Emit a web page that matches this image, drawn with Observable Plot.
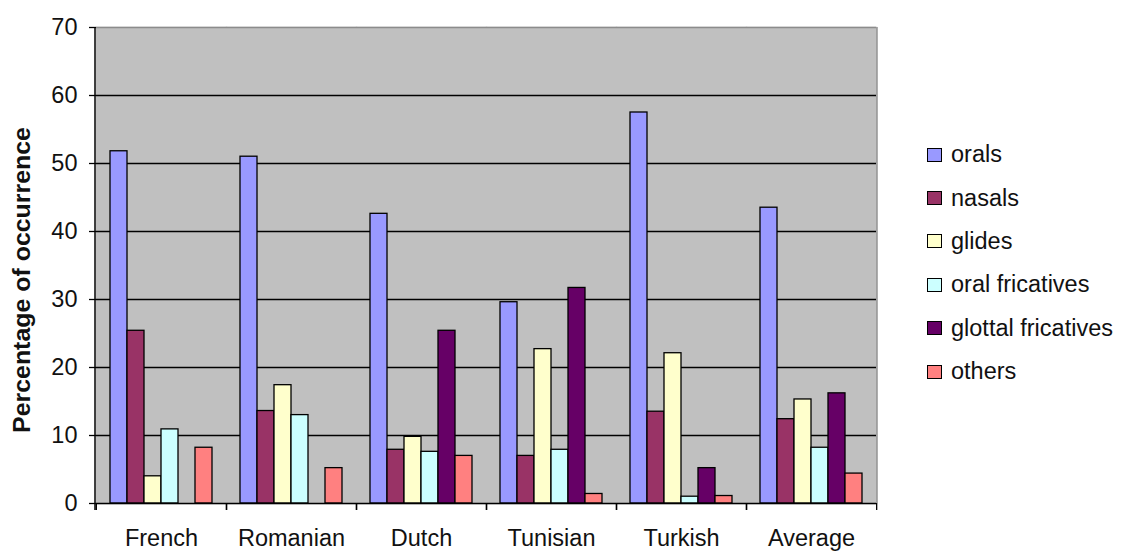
<!DOCTYPE html>
<html><head><meta charset="utf-8">
<script src="https://cdn.jsdelivr.net/npm/d3@7"></script>
<script src="https://cdn.jsdelivr.net/npm/@observablehq/plot@0.6"></script>
<style>
body{margin:0;background:#fff;font-family:"Liberation Sans",Arial,sans-serif;}
#wrap{position:relative;width:1130px;height:552px;overflow:hidden;}
#legend{position:absolute;left:927px;top:133px;}
.item{display:flex;align-items:center;height:43.4px;font-size:23.5px;color:#111;white-space:nowrap;}
.sw{width:13px;height:12px;border:1.5px solid #000;margin-right:9px;flex:none;}
#ylabel{position:absolute;left:22px;top:280px;transform:translate(-50%,-50%) rotate(-90deg) scaleX(1.06);font-size:23.5px;font-weight:bold;color:#111;white-space:nowrap;}
</style></head><body>
<div id="wrap"><div id="ylabel">Percentage of occurrence</div><div id="legend"></div></div>
<script>
const languages = ["French","Romanian","Dutch","Tunisian","Turkish","Average"];
const categories = ["orals","nasals","glides","oral fricatives","glottal fricatives","others"];
const orals = [51.8,51.0,42.6,29.6,57.5,43.5];
const nasals = [25.4,13.6,7.9,7.0,13.5,12.4];
const glides = [4.0,17.4,9.8,22.7,22.1,15.3];
const oralFricatives = [10.9,13.0,7.6,7.9,1.0,8.2];
const glottalFricatives = [0,0,25.4,31.7,5.2,16.2];
const others = [8.2,5.2,7.0,1.4,1.1,4.4];
const yTicks = [0,10,20,30,40,50,60,70];
const colors = ["#9999FF","#993366","#FFFFCC","#CCFFFF","#660066","#FF8080"];

const series = [orals,nasals,glides,oralFricatives,glottalFricatives,others];
const data = [];
languages.forEach((lang,i)=>categories.forEach((cat,j)=>{
  data.push({language:lang,category:cat,value:series[j][i]});
}));

const W=1130,H=552,ML=95,MR=253,MT=27,MB=49;
const bw=(W-ML-MR)/languages.length;

const plot = Plot.plot({
  width:W,height:H,marginLeft:ML,marginRight:MR,marginTop:MT,marginBottom:MB,
  style:{fontFamily:"'Liberation Sans', Arial, sans-serif",fontSize:"23.5px",color:"#111",background:"transparent",overflow:"visible"},
  fx:{domain:languages,padding:0,label:null,axis:null},
  x:{domain:categories,paddingInner:0,paddingOuter:0.78,axis:null},
  y:{domain:[0,70],axis:null},
  color:{domain:categories,range:colors},
  marks:[
    Plot.frame({fill:"#C0C0C0",stroke:"#C0C0C0",strokeWidth:1.5}),
    Plot.gridY(yTicks.filter(v=>v>0&&v<70),{stroke:"#000",strokeOpacity:1,strokeWidth:1.3}),
    Plot.ruleY([70],{stroke:"#8c8c8c",strokeWidth:1.3}),
    Plot.barY(data,{fx:"language",x:"category",y:"value",fill:"category",stroke:"#000",strokeWidth:1.3}),
    Plot.ruleY([0],{stroke:"#000",strokeWidth:1.5}),
    Plot.axisY(yTicks,{tickSize:7,tickPadding:12,label:null,stroke:"#000",strokeWidth:1.3}),
    Plot.axisFx({anchor:"bottom",tickSize:0,tickPadding:26,label:null}),
    Plot.axisFx({anchor:"bottom",text:null,tickSize:7,dx:bw/2,label:null,stroke:"#000",strokeWidth:1.3}),
    Plot.axisFx({anchor:"bottom",text:null,tickSize:7,dx:-bw/2,label:null,stroke:"#000",strokeWidth:1.3})
  ]
});

const svg = d3.select(plot);
const ys = plot.scale("y");
const y0 = ys.apply(0), y70 = ys.apply(70);
svg.append("line").attr("x1",W-MR).attr("x2",W-MR).attr("y1",y70).attr("y2",y0)
  .attr("stroke","#8c8c8c").attr("stroke-width",1.3);
svg.append("line").attr("x1",ML).attr("x2",ML).attr("y1",y70).attr("y2",y0+7)
  .attr("stroke","#000").attr("stroke-width",1.5);

document.getElementById("wrap").prepend(plot);

const legend = d3.select("#legend");
categories.forEach((c,i)=>{
  const it = legend.append("div").attr("class","item");
  it.append("div").attr("class","sw").style("background",colors[i]);
  it.append("span").text(c);
});
</script>
</body></html>
